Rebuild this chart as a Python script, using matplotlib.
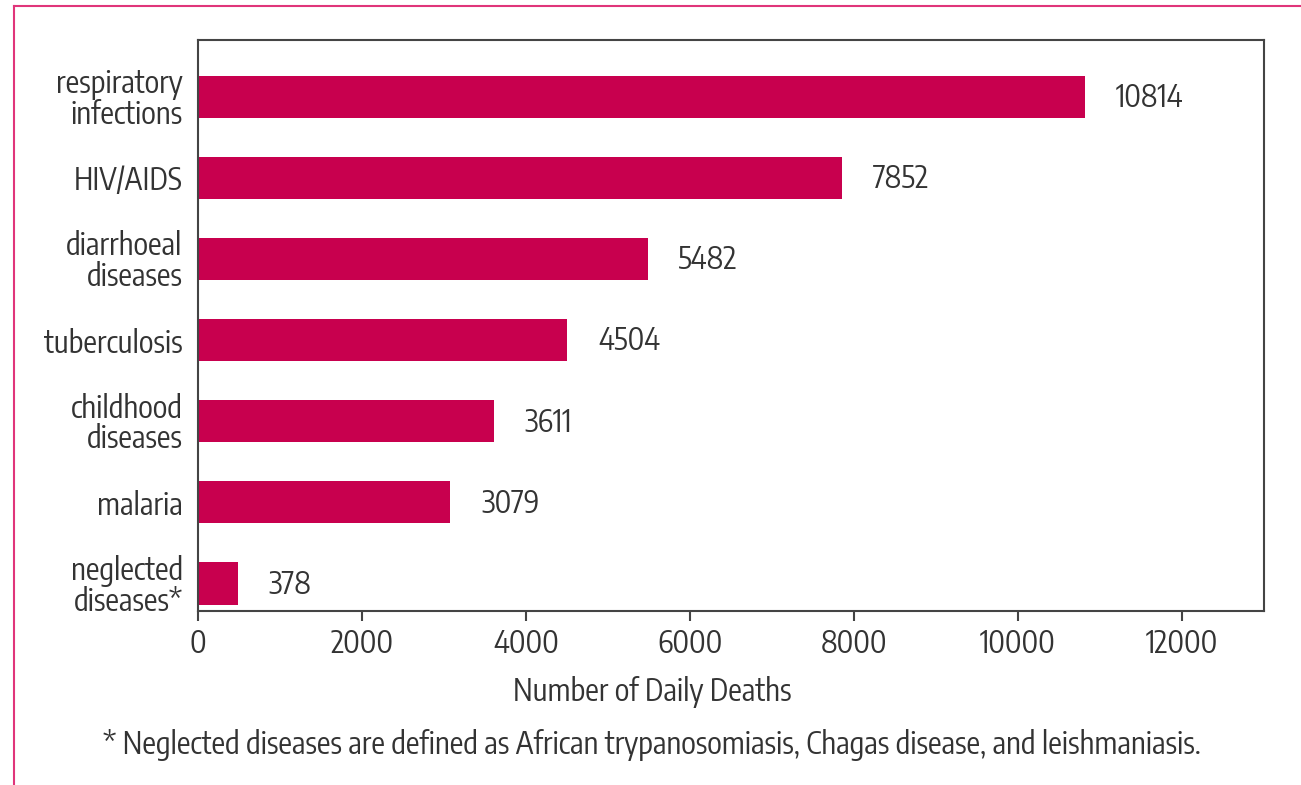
import matplotlib
matplotlib.use("Agg")
import matplotlib.pyplot as plt
from matplotlib.lines import Line2D
from matplotlib import font_manager

categories = ["respiratory\ninfections", "HIV/AIDS", "diarrhoeal\ndiseases", "tuberculosis",
              "childhood\ndiseases", "malaria", "neglected\ndiseases*"]
bar_lengths = [10814, 7852, 5482, 4504, 3611, 3079, 490]
value_labels = ["10814", "7852", "5482", "4504", "3611", "3079", "378"]
xticks = [0, 2000, 4000, 6000, 8000, 10000, 12000]
xlabel = "Number of Daily Deaths"
footnote = "* Neglected diseases are defined as African trypanosomiasis, Chagas disease, and leishmaniasis."

# prefer a condensed sans family if one is installed
narrow = None
for f in font_manager.fontManager.ttflist:
    n = f.name
    if ("Narrow" in n or "Condensed" in n) and "Sans" in n or n in ("Roboto Condensed", "Arial Narrow"):
        narrow = n
        break
if narrow:
    family, fs = [narrow, 'DejaVu Sans'], 22
else:
    family, fs = ['Liberation Sans', 'DejaVu Sans'], 18.2
plt.rcParams['font.family'] = family

W, H = 1301, 785
fig = plt.figure(figsize=(W / 100, H / 100), dpi=100)
ax = fig.add_axes([198 / W, 1 - 611 / H, (1264 - 198) / W, (611 - 40) / H])

bar_color = "#C8004E"
text_color = "#333333"
pos = list(range(len(categories)))
ax.barh(pos, bar_lengths, height=0.52, color=bar_color)
for p, v, lab in zip(pos, bar_lengths, value_labels):
    ax.annotate(lab, (v, p), xytext=(22, -1), textcoords="offset points",
                va="center", ha="left", fontsize=fs, color=text_color)

ax.set_xlim(0, 13000)
ax.set_ylim(6.34, -0.70)
ax.set_xticks(xticks)
ax.set_xticklabels([str(t) for t in xticks], fontsize=fs, color=text_color)
ax.set_yticks(pos)
ax.set_yticklabels(categories, fontsize=fs, color=text_color, linespacing=0.95)
ax.tick_params(axis="y", length=0, pad=11)
ax.tick_params(axis="x", length=7, width=1.5, color="#444444", pad=5)
for s in ax.spines.values():
    s.set_color("#444444")
    s.set_linewidth(1.5)

fig.text(652 / W, 1 - 692 / H, xlabel, ha="center", va="center", fontsize=fs, color=text_color)
fig.text(652 / W, 1 - 745 / H, footnote, ha="center", va="center", fontsize=fs, color=text_color)

frame = "#E0357A"
fig.add_artist(Line2D([14 / W, 1], [1 - 6 / H, 1 - 6 / H], color=frame, lw=1.5, transform=fig.transFigure))
fig.add_artist(Line2D([14 / W, 14 / W], [1 - 6 / H, 0], color=frame, lw=1.5, transform=fig.transFigure))

fig.savefig("out.png", dpi=100)
